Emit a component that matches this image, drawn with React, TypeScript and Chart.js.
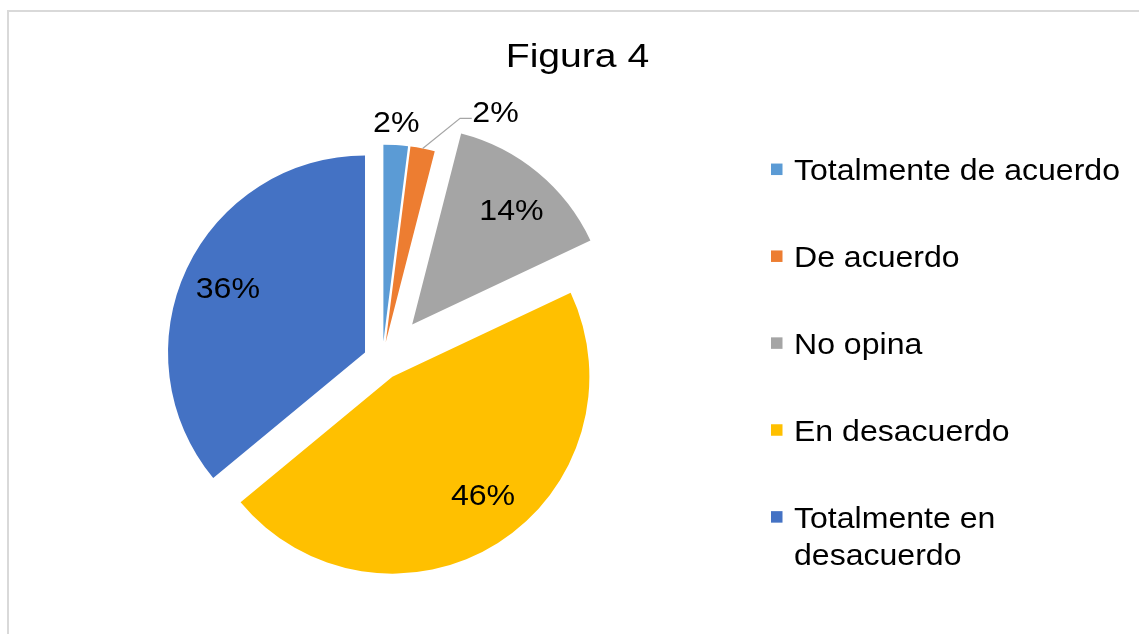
import React, { useEffect, useRef } from "react";
import { Chart, registerables } from "chart.js";

Chart.register(...registerables);

// ---- data ----
const categories = [
  "Totalmente de acuerdo",
  "De acuerdo",
  "No opina",
  "En desacuerdo",
  "Totalmente en desacuerdo",
];
const values = [2, 2, 14, 46, 36];
const titleText = "Figura 4";

// ---- style ----
const sliceColors = ["#5B9BD5", "#ED7D31", "#A5A5A5", "#FFC000", "#4472C4"];
const explodePx = [19, 19, 47, 19, 19];
const labelRadius = [1.12, 1.0, 0.77, 0.754, 0.77];
const labelAngleShift = [-0.25, 0, 1.3, -5.2, 0.1];
const labelLeader = [false, true, false, false, false];

const FONT = '"Liberation Sans", Arial, sans-serif';
const W = 1139;
const H = 634;
const CX = 382.2;
const CY = 360.6;
const RADIUS = 197;

function drawText(
  ctx: CanvasRenderingContext2D,
  text: string,
  x: number,
  y: number,
  size: number,
  sx: number,
  align: CanvasTextAlign
) {
  ctx.save();
  ctx.font = `${size}px ${FONT}`;
  ctx.textAlign = align;
  ctx.textBaseline = "alphabetic";
  ctx.fillStyle = "#000000";
  ctx.translate(x, y);
  ctx.scale(sx, 1);
  ctx.fillText(text, 0, 0);
  ctx.restore();
}

const framePlugin = {
  id: "frameLines",
  beforeDraw(chart: any) {
    const ctx: CanvasRenderingContext2D = chart.ctx;
    ctx.save();
    ctx.fillStyle = "#FFFFFF";
    ctx.fillRect(0, 0, W, H);
    ctx.strokeStyle = "#D9D9D9";
    ctx.lineWidth = 2;
    ctx.beginPath();
    ctx.moveTo(8, H + 5);
    ctx.lineTo(8, 11);
    ctx.lineTo(W + 5, 11);
    ctx.stroke();
    ctx.restore();
  },
};

const explodePlugin = {
  id: "explodeSlices",
  afterDatasetsUpdate(chart: any) {
    const meta = chart.getDatasetMeta(0);
    meta.data.forEach((arc: any, i: number) => {
      const a = (arc.startAngle + arc.endAngle) / 2;
      const d = explodePx[i] || 0;
      arc.x += Math.cos(a) * d;
      arc.y += Math.sin(a) * d;
    });
  },
};

const labelsPlugin = {
  id: "pieDecor",
  afterDatasetsDraw(chart: any) {
    const ctx: CanvasRenderingContext2D = chart.ctx;
    const meta = chart.getDatasetMeta(0);
    const total = values.reduce((s, v) => s + v, 0);
    const size = 30;
    const sx = 1.07;
    meta.data.forEach((arc: any, i: number) => {
      const txt = Math.round((values[i] / total) * 100) + "%";
      const mid = (arc.startAngle + arc.endAngle) / 2;
      const R = arc.outerRadius;
      if (labelLeader[i]) {
        const x0 = arc.x + Math.cos(mid) * R;
        const y0 = arc.y + Math.sin(mid) * R;
        const x1 = x0 + 37.4;
        const y1 = y0 - 30.1;
        const x2 = x1 + 11.7;
        ctx.save();
        ctx.strokeStyle = "#A6A6A6";
        ctx.lineWidth = 1.2;
        ctx.beginPath();
        ctx.moveTo(x0, y0);
        ctx.lineTo(x1, y1);
        ctx.lineTo(x2, y1);
        ctx.stroke();
        ctx.restore();
        drawText(ctx, txt, x2 + 0.5, y1 + 3.4, size, sx, "left");
      } else {
        const a = mid + (labelAngleShift[i] * Math.PI) / 180;
        const cx = arc.x + Math.cos(a) * R * labelRadius[i];
        const cy = arc.y + Math.sin(a) * R * labelRadius[i];
        drawText(ctx, txt, cx, cy + 0.358 * size, size, sx, "center");
      }
    });

    // title
    drawText(ctx, titleText, 577.5, 66.7, 34, 1.15, "center");

    // legend
    const lx = 771;
    const box = 11.5;
    const tx = 794;
    const fs = 29;
    const lsx = 1.105;
    const y0 = 169.3;
    const step = 86.9;
    const lineH = 36.6;
    const maxW = 340;
    ctx.save();
    ctx.font = `${fs}px ${FONT}`;
    categories.forEach((name, i) => {
      const cy = y0 + step * i;
      ctx.fillStyle = sliceColors[i];
      ctx.fillRect(lx, cy - box / 2, box, box);
      const words = name.split(" ");
      const lines: string[] = [];
      let cur = "";
      words.forEach((w) => {
        const test = cur ? cur + " " + w : w;
        if (ctx.measureText(test).width * lsx > maxW && cur) {
          lines.push(cur);
          cur = w;
        } else {
          cur = test;
        }
      });
      if (cur) lines.push(cur);
      lines.forEach((ln, k) => {
        drawText(ctx, ln, tx, cy + 11 + k * lineH, fs, lsx, "left");
      });
      ctx.font = `${fs}px ${FONT}`;
    });
    ctx.restore();
  },
};

export default function App() {
  const ref = useRef<HTMLCanvasElement | null>(null);

  useEffect(() => {
    document.documentElement.style.overflow = "hidden";
    document.body.style.overflow = "hidden";
    if (!ref.current) return;
    const half = 220;
    const chart = new Chart(ref.current, {
      type: "pie",
      data: {
        labels: categories,
        datasets: [
          {
            data: values,
            backgroundColor: sliceColors,
            borderWidth: 0,
          },
        ],
      },
      options: {
        responsive: false,
        animation: false,
        devicePixelRatio: 1,
        events: [],
        radius: RADIUS,
        layout: {
          padding: {
            left: CX - half,
            right: W - (CX + half),
            top: CY - half,
            bottom: H - (CY + half),
          },
        },
        plugins: {
          legend: { display: false },
          title: { display: false },
          tooltip: { enabled: false },
        },
      } as any,
      plugins: [framePlugin, explodePlugin, labelsPlugin],
    });
    return () => chart.destroy();
  }, []);

  return (
    <div
      style={{
        position: "fixed",
        left: 0,
        top: 0,
        width: W,
        height: H,
        background: "#ffffff",
        overflow: "hidden",
      }}
    >
      <canvas
        ref={ref}
        width={W}
        height={H}
        style={{ position: "absolute", left: 0, top: 0, width: W, height: H }}
      />
    </div>
  );
}
